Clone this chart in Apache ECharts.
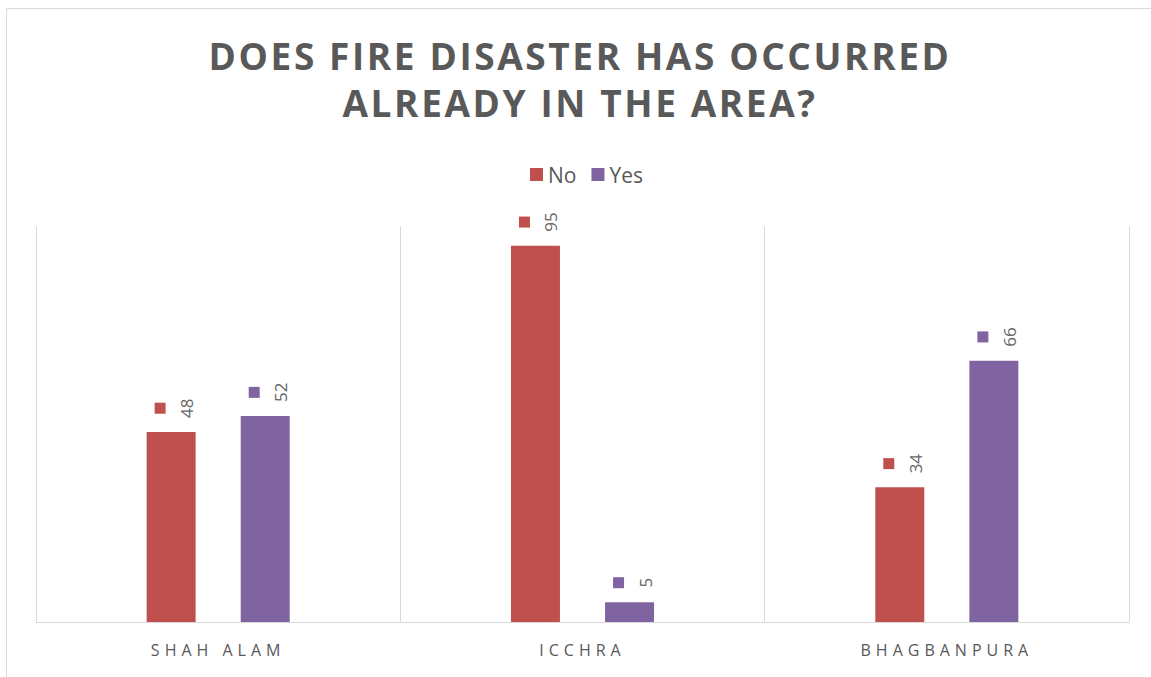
<!DOCTYPE html>
<html>
<head>
<meta charset="utf-8">
<script src="https://cdn.jsdelivr.net/npm/echarts@6/dist/echarts.min.js"></script>
<style>
  html, body { margin: 0; padding: 0; background: #fff; }
  #chart { width: 1151px; height: 677px; }
  /* spaced-out capitals for the heading and the category names */
  #chart text[style*="37px"] { letter-spacing: 2.6px; }
  #chart text[style*="16px"] { letter-spacing: 5px; }
</style>
</head>
<body>
<div id="chart"></div>
<script>
const categories = ['SHAH ALAM', 'ICCHRA', 'BHAGBANPURA'];
const seriesNames = ['No', 'Yes'];
const noValues = [48, 95, 34];
const yesValues = [52, 5, 66];

const colors = { No: '#C0504D', Yes: '#8064A2' };
const textColor = '#595959';
const fontFamily = 'Open Sans';

function barLabel(color) {
  return {
    show: true,
    position: 'top',
    distance: 14,
    rotate: 90,
    align: 'left',
    verticalAlign: 'middle',
    formatter: p => '{sq| }\n{v|' + p.value + '}',
    rich: {
      sq: { width: 11, height: 11, lineHeight: 31, backgroundColor: color, align: 'center' },
      v: { fontSize: 17, lineHeight: 22, color: '#666666', fontFamily: fontFamily, align: 'center' }
    }
  };
}

const chart = echarts.init(document.getElementById('chart'), null, { renderer: 'svg' });
chart.setOption({
  animation: false,
  backgroundColor: '#fff',
  graphic: [{
    type: 'rect',
    shape: { x: 6.5, y: 8.5, width: 1300, height: 900 },
    style: { fill: 'none', stroke: '#d9d9d9', lineWidth: 1 },
    silent: true
  }],
  title: {
    text: 'DOES FIRE DISASTER HAS OCCURRED\nALREADY IN THE AREA?',
    left: 575,
    top: 27,
    textAlign: 'center',
    textVerticalAlign: 'top',
    textStyle: { fontFamily: fontFamily, fontSize: 37, fontWeight: 'bold', color: textColor, lineHeight: 47 }
  },
  legend: {
    data: seriesNames,
    top: 159,
    left: 525,
    icon: 'rect',
    itemWidth: 13,
    itemHeight: 13,
    itemGap: 15,
    textStyle: { fontFamily: fontFamily, fontSize: 21, color: textColor }
  },
  grid: { left: 36, right: 22, top: 226, bottom: 55, containLabel: false },
  xAxis: {
    type: 'category',
    data: categories,
    axisLine: { lineStyle: { color: '#d9d9d9', width: 1 } },
    axisTick: { show: false },
    splitLine: { show: true, lineStyle: { color: '#d9d9d9', width: 1 } },
    axisLabel: { fontFamily: fontFamily, fontSize: 16, color: textColor, margin: 20 }
  },
  yAxis: {
    type: 'value',
    min: 0,
    max: 100,
    show: false,
    splitLine: { show: false }
  },
  series: [
    {
      name: 'No',
      type: 'bar',
      data: noValues,
      barWidth: 49,
      barGap: '92%',
      itemStyle: { color: colors.No },
      label: barLabel(colors.No)
    },
    {
      name: 'Yes',
      type: 'bar',
      data: yesValues,
      barWidth: 49,
      barGap: '92%',
      itemStyle: { color: colors.Yes },
      label: barLabel(colors.Yes)
    }
  ]
});
</script>
</body>
</html>
